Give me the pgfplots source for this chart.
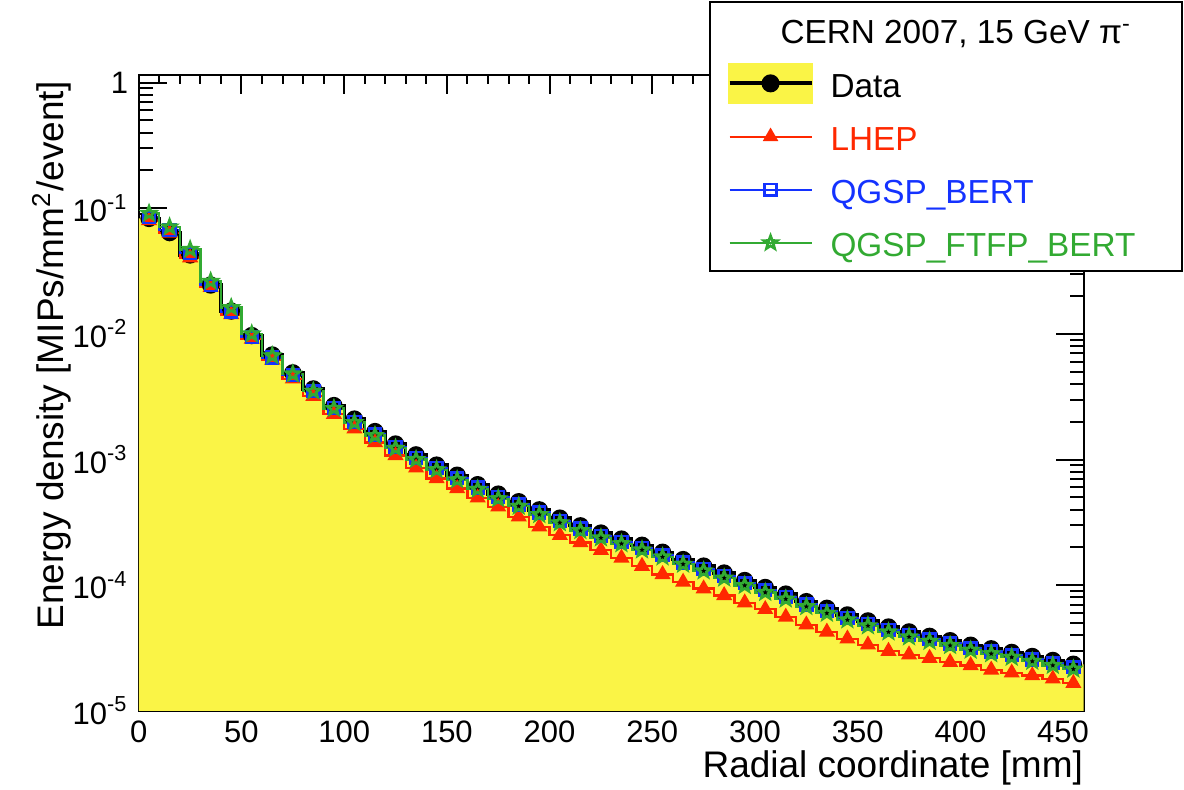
\documentclass[border=0pt]{standalone}
\usepackage{fontspec}
\setmainfont{Liberation Sans}
\usepackage{pgfplots}
\usepackage{pgfplotstable}
\pgfplotsset{compat=1.18}
\definecolor{datafill}{RGB}{250,244,70}
\definecolor{lhep}{RGB}{255,40,0}
\definecolor{qgsp}{RGB}{20,50,255}
\definecolor{ftfp}{RGB}{50,170,50}
\definecolor{prelim}{RGB}{170,170,170}

\pgfdeclareplotmark{ostar}{%
 \pgfpathmoveto{\pgfpointpolar{90}{\pgfplotmarksize}}%
 \pgfpathlineto{\pgfpointpolar{126}{0.42\pgfplotmarksize}}%
 \pgfpathlineto{\pgfpointpolar{162}{\pgfplotmarksize}}%
 \pgfpathlineto{\pgfpointpolar{198}{0.42\pgfplotmarksize}}%
 \pgfpathlineto{\pgfpointpolar{234}{\pgfplotmarksize}}%
 \pgfpathlineto{\pgfpointpolar{270}{0.42\pgfplotmarksize}}%
 \pgfpathlineto{\pgfpointpolar{306}{\pgfplotmarksize}}%
 \pgfpathlineto{\pgfpointpolar{342}{0.42\pgfplotmarksize}}%
 \pgfpathlineto{\pgfpointpolar{18}{\pgfplotmarksize}}%
 \pgfpathlineto{\pgfpointpolar{54}{0.42\pgfplotmarksize}}%
 \pgfpathclose
 \pgfusepathqstroke}

\pgfplotstableread{
r    data       lhep       qgsp       ftfp
5    0.083      0.080      0.085      0.091
15   0.064      0.0635     0.067      0.071
25   0.0425     0.0405     0.044      0.047
35   0.0245     0.0235     0.0245     0.0262
45   0.0152     0.0143     0.0150     0.0162
55   0.0097     0.0091     0.0094     0.0100
65   0.0068     0.0062     0.0065     0.0067
75   0.0049     0.0044     0.0047     0.0048
85   0.00365    0.0032     0.0035     0.0035
95   0.00269    0.0023     0.00258    0.00255
105  0.00210    0.00176    0.00200    0.00197
115  0.00167    0.00137    0.00158    0.00155
125  0.00133    0.00108    0.00126    0.00123
135  0.00109    0.00086    0.00103    0.00100
145  0.000904   0.000708   0.000858   0.000830
155  0.000751   0.000589   0.000713   0.000690
165  0.000631   0.000497   0.000600   0.000580
175  0.000531   0.000421   0.000505   0.000488
185  0.000462   0.000351   0.000440   0.000425
195  0.000398   0.000292   0.000378   0.000365
205  0.000342   0.000250   0.000325   0.000314
215  0.000297   0.000219   0.000282   0.000272
225  0.000260   0.000190   0.000247   0.000238
235  0.000233   0.000165   0.000222   0.000214
245  0.000208   0.000142   0.000198   0.000191
255  0.000183   0.000122   0.000174   0.000168
265  0.000160   0.000106   0.000152   0.000147
275  0.000142   0.0000939  0.000135   0.000130
285  0.000125   0.0000830  0.000119   0.000114
295  0.000109   0.0000726  0.000104   0.0000995
305  0.0000960  0.0000643  0.0000912  0.0000876
315  0.0000850  0.0000559  0.0000808  0.0000776
325  0.0000740  0.0000485  0.0000703  0.0000676
335  0.0000655  0.0000425  0.0000622  0.0000598
345  0.0000580  0.0000375  0.0000551  0.0000530
355  0.0000520  0.0000336  0.0000494  0.0000475
365  0.0000465  0.0000299  0.0000442  0.0000425
375  0.0000425  0.0000280  0.0000404  0.0000388
385  0.0000392  0.0000263  0.0000372  0.0000358
395  0.0000362  0.0000244  0.0000344  0.0000331
405  0.0000333  0.0000230  0.0000316  0.0000304
415  0.0000312  0.0000212  0.0000296  0.0000285
425  0.0000292  0.0000201  0.0000277  0.0000267
435  0.0000271  0.0000191  0.0000257  0.0000248
445  0.0000252  0.0000180  0.0000239  0.0000230
455  0.0000235  0.0000166  0.0000223  0.0000215
}\profile

\begin{document}
\begin{tikzpicture}
\useasboundingbox (-41.64pt,-23.7pt) rectangle (313.62pt,213.3pt);
\begin{axis}[
  at={(0pt,0pt)}, anchor=south west,
  scale only axis, width=283.5pt, height=190.8pt,
  ymode=log, xmin=0, xmax=460, ymin=1e-5, ymax=1.15,
  axis line style={line width=0.6pt},
  tick align=inside, xtick pos=both, ytick pos=both,
  xtick={0,50,...,450}, minor x tick num=4,
  ytick={1e-5,1e-4,1e-3,1e-2,1e-1,1},
  yticklabels={10\textsuperscript{-5},10\textsuperscript{-4},10\textsuperscript{-3},10\textsuperscript{-2},10\textsuperscript{-1},1},
  minor ytick={2e-5,3e-5,4e-5,5e-5,6e-5,7e-5,8e-5,9e-5,
               2e-4,3e-4,4e-4,5e-4,6e-4,7e-4,8e-4,9e-4,
               2e-3,3e-3,4e-3,5e-3,6e-3,7e-3,8e-3,9e-3,
               2e-2,3e-2,4e-2,5e-2,6e-2,7e-2,8e-2,9e-2,
               2e-1,3e-1,4e-1,5e-1,6e-1,7e-1,8e-1,9e-1},
  xtick style={line width=0.6pt, black, /pgfplots/major tick length=5.7pt, /pgfplots/minor tick length=2.8pt},
  ytick style={line width=0.6pt, black, /pgfplots/major tick length=8.4pt, /pgfplots/minor tick length=4.2pt},
  ticklabel style={font=\fontsize{9.3}{11}\selectfont},
  /pgf/number format/assume math mode=true,
  xticklabel style={anchor=north, inner sep=0pt, yshift=-2.7pt},
  yticklabel style={anchor=east, inner sep=0pt, xshift=-3pt},
  xlabel={Radial coordinate [mm]},
  ylabel={Energy density [MIPs/mm\textsuperscript{2}/event]},
  xlabel style={at={(axis description cs:1,-0.1053)}, anchor=base east, inner sep=0pt, font=\fontsize{11.1}{13}\selectfont},
  ylabel style={at={(axis description cs:-0.0799,0.992)}, anchor=base east, inner sep=0pt, font=\fontsize{11.1}{13}\selectfont},
  legend style={at={(1.105,1.1164)}, anchor=north east, draw=black, line width=0.6pt, fill=white,
    font=\fontsize{10}{12}\selectfont, inner xsep=5.4pt, inner ysep=0.5pt, row sep=0pt, column sep=5.1pt,
    nodes={inner sep=0pt, text height=12.1pt, text depth=3.85pt}},
  legend cell align=left,
  legend image code/.code={\draw[mark repeat=2,mark phase=2,line width=0.6pt] plot coordinates {(0pt,0pt)(12.3pt,0pt)(24.6pt,0pt)};},
]
\addlegendimage{empty legend}
\addlegendentry{\hspace*{-15pt}CERN 2007, 15 GeV π\textsuperscript{-}}

\addplot[draw=none, fill=datafill, const plot mark left, forget plot] coordinates {
(0,0.083) (10,0.064) (20,0.0425) (30,0.0245) (40,0.0152) (50,0.0097) (60,0.0068) (70,0.0049)
(80,0.00365) (90,0.00269) (100,0.00210) (110,0.00167) (120,0.00133) (130,0.00109) (140,0.000904)
(150,0.000751) (160,0.000631) (170,0.000531) (180,0.000462) (190,0.000398) (200,0.000342)
(210,0.000297) (220,0.000260) (230,0.000233) (240,0.000208) (250,0.000183) (260,0.000160)
(270,0.000142) (280,0.000125) (290,0.000109) (300,0.0000960) (310,0.0000850) (320,0.0000740)
(330,0.0000655) (340,0.0000580) (350,0.0000520) (360,0.0000465) (370,0.0000425) (380,0.0000392)
(390,0.0000362) (400,0.0000333) (410,0.0000312) (420,0.0000292) (430,0.0000271) (440,0.0000252)
(450,0.0000235) (460,0.0000235) (460,0.000001) (0,0.000001)
};

\addplot[black, line width=1pt, const plot mark mid, mark=*, mark size=2.1pt, mark options={solid, fill=black},
  legend image code/.code={
    \fill[datafill] (0pt,-5.6pt) rectangle (24.6pt,5.6pt);
    \draw[mark repeat=2,mark phase=2,line width=1.2pt] plot coordinates {(0pt,0pt)(12.3pt,0pt)(24.6pt,0pt)};}]
  table[x=r, y=data] {\profile};
\addlegendentry{Data}

\addplot[lhep, line width=0.7pt, const plot mark mid, mark=triangle*, mark size=2.1pt, mark options={solid, fill=lhep}]
  table[x=r, y=lhep] {\profile};
\addlegendentry{\textcolor{lhep}{LHEP}}

\addplot[qgsp, line width=0.7pt, const plot mark mid, mark=square, mark size=1.75pt, mark options={solid, line width=0.8pt}]
  table[x=r, y=qgsp] {\profile};
\addlegendentry{\textcolor{qgsp}{QGSP\_BERT}}

\addplot[ftfp, line width=0.7pt, const plot mark mid, mark=ostar, mark size=2.1pt, mark options={solid, line width=0.8pt}]
  table[x=r, y=ftfp] {\profile};
\addlegendentry{\textcolor{ftfp}{QGSP\_FTFP\_BERT}\hspace*{8.5pt}}

\node[anchor=base west, text=prelim, font=\fontsize{12.3}{14}\selectfont, inner sep=0pt]
  at (axis description cs:0.0015,1.0425) {CALICE preliminary};
\end{axis}
\end{tikzpicture}
\end{document}
